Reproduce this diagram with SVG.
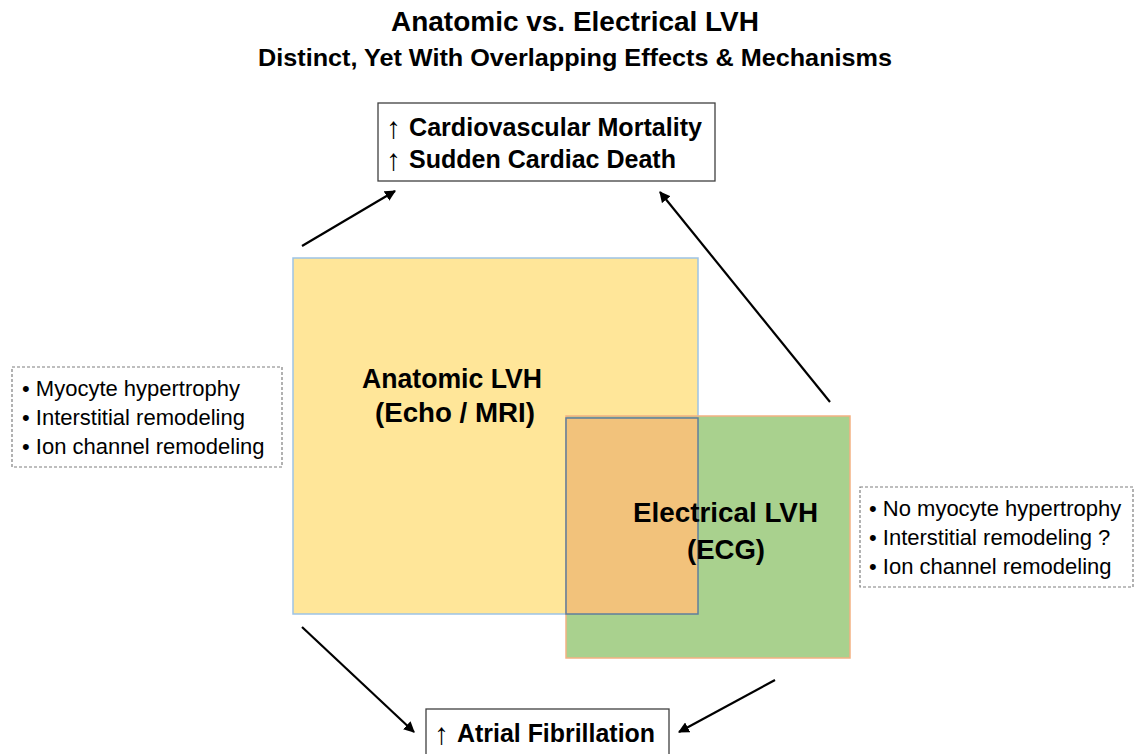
<svg xmlns="http://www.w3.org/2000/svg" width="1135" height="754" viewBox="0 0 1135 754">
<defs>
<style>
.t{font-family:"Liberation Sans",Arial,sans-serif;font-weight:bold;fill:#000}
.n{font-family:"Liberation Sans",Arial,sans-serif;font-size:22px;fill:#000}
.ar{font-family:"Liberation Sans",Arial,sans-serif;font-weight:normal;font-size:30px;fill:#000}
.box{fill:#fff;stroke:#404040;stroke-width:1.3}
.dash{fill:#fff;stroke:#7f7f7f;stroke-width:1.2;stroke-dasharray:3 2}
.con{stroke:#000;stroke-width:2.2;fill:none;marker-end:url(#ah)}
</style>
<marker id="ah" viewBox="0 0 10 10" refX="9" refY="5" markerWidth="5" markerHeight="5" orient="auto" markerUnits="strokeWidth">
<path d="M0,0 L10,5 L0,10 z" fill="#000"/>
</marker>
</defs>
<rect width="1135" height="754" fill="#fff"/>
<g id="title">
<text class="t" x="575" y="31" font-size="27" text-anchor="middle" textLength="368" lengthAdjust="spacingAndGlyphs">Anatomic vs. Electrical LVH</text>
<text class="t" x="575" y="66" font-size="24" text-anchor="middle" textLength="634" lengthAdjust="spacingAndGlyphs">Distinct, Yet With Overlapping Effects &amp; Mechanisms</text>
</g>
<g id="anatomic">
<rect x="293" y="258" width="405" height="356" fill="#FFE699" stroke="#9DC3E6" stroke-width="1.5"/>
</g>
<g id="electrical">
<rect x="566" y="416" width="284" height="242" fill="#A9D18E" stroke="#F4B183" stroke-width="1.5"/>
</g>
<g id="overlap">
<rect x="566" y="418" width="132" height="196" fill="#F2C27B" stroke="#5F7E9C" stroke-width="1.5"/>
</g>
<g id="anatomic-label">
<text class="t" font-size="27" x="362" y="388" textLength="180" lengthAdjust="spacingAndGlyphs">Anatomic LVH</text>
<text class="t" font-size="27" x="375" y="422" textLength="160" lengthAdjust="spacingAndGlyphs">(Echo / MRI)</text>
</g>
<g id="electrical-label">
<text class="t" font-size="27" x="633" y="522" textLength="185" lengthAdjust="spacingAndGlyphs">Electrical LVH</text>
<text class="t" font-size="27" x="687" y="559" textLength="78" lengthAdjust="spacingAndGlyphs">(ECG)</text>
</g>
<g id="outcomes">
<rect class="box" x="378" y="103" width="337" height="78"/>
<text class="ar" x="386" y="138">↑</text>
<text class="t" font-size="25" x="409" y="136" textLength="293" lengthAdjust="spacingAndGlyphs">Cardiovascular Mortality</text>
<text class="ar" x="386" y="170">↑</text>
<text class="t" font-size="25" x="409" y="168" textLength="267" lengthAdjust="spacingAndGlyphs">Sudden Cardiac Death</text>
</g>
<g id="af">
<rect class="box" x="426" y="709" width="243" height="50"/>
<text class="ar" x="434" y="744">↑</text>
<text class="t" font-size="25" x="457" y="742" textLength="198" lengthAdjust="spacingAndGlyphs">Atrial Fibrillation</text>
</g>
<g id="anatomic-notes">
<rect class="dash" x="12" y="367" width="270" height="100"/>
<text class="n"><tspan x="22" y="396">• Myocyte hypertrophy</tspan><tspan x="22" y="425">• Interstitial remodeling</tspan><tspan x="22" y="454">• Ion channel remodeling</tspan></text>
</g>
<g id="electrical-notes">
<rect class="dash" x="860" y="487" width="273" height="100"/>
<text class="n"><tspan x="869" y="516">• No myocyte hypertrophy</tspan><tspan x="869" y="545">• Interstitial remodeling ?</tspan><tspan x="869" y="574">• Ion channel remodeling</tspan></text>
</g>
<g id="connectors">
<line class="con" x1="302" y1="246" x2="395" y2="191"/>
<line class="con" x1="830" y1="402" x2="660" y2="192"/>
<line class="con" x1="302" y1="627" x2="414" y2="732"/>
<line class="con" x1="775" y1="680" x2="679" y2="732"/>
</g>
</svg>
